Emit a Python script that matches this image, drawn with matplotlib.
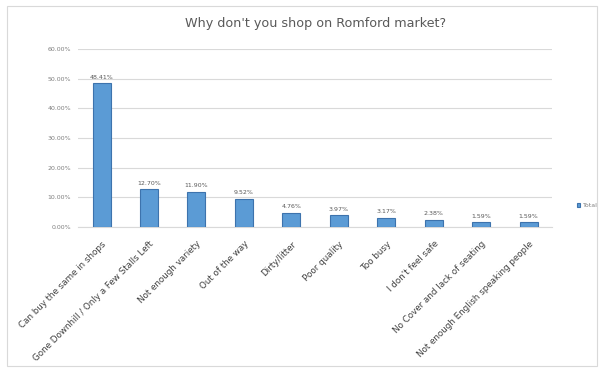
import numpy as np
import matplotlib.pyplot as plt
from matplotlib.patches import Rectangle

# Survey answers (share of respondents)
reasons = ["Can buy the same in shops",
           "Gone Downhill / Only a Few Stalls Left",
           "Not enough variety",
           "Out of the way",
           "Dirty/litter",
           "Poor quality",
           "Too busy",
           "I don't feel safe",
           "No Cover and lack of seating",
           "Not enough English speaking people"]
shares = [0.4841, 0.1270, 0.1190, 0.0952, 0.0476, 0.0397, 0.0317, 0.0238, 0.0159, 0.0159]
y_ticks = [0, 0.1, 0.2, 0.3, 0.4, 0.5, 0.6]

fig = plt.figure(figsize=(5.99, 3.72), dpi=100)
ax = fig.add_axes([0.130, 0.390, 0.792, 0.478])

# Outer chart border
fig.patches.append(Rectangle((0.011, 0.015), 0.985, 0.968, transform=fig.transFigure,
                             fill=False, edgecolor='#d9d9d9', linewidth=0.8))

x = np.arange(len(reasons))
bars = ax.bar(x, shares, width=0.38, color='#5b9bd5', edgecolor='#3d73ad',
              linewidth=0.8, label='Total', zorder=3)

for xi, v in zip(x, shares):
    ax.text(xi, v + 0.012, f"{v*100:.2f}%", ha='center', va='bottom',
            fontsize=4.5, color='#595959')

ax.set_xlim(-0.5, len(reasons) - 0.5)
ax.set_ylim(0, 0.6)
ax.set_yticks(y_ticks)
ax.set_yticklabels([f"{t*100:.2f}%" for t in y_ticks], fontsize=4.5, color='#7f7f7f')
ax.set_xticks(x)
ax.set_xticklabels(reasons, rotation=45, ha='right', rotation_mode='anchor',
                   fontsize=6.3, color='#404040')
ax.tick_params(axis='y', length=0, pad=5)
ax.tick_params(axis='x', length=0, pad=9)
ax.grid(axis='y', color='#d9d9d9', linewidth=0.8, zorder=0)
for s in ['top', 'right', 'left']:
    ax.spines[s].set_visible(False)
ax.spines['bottom'].set_color('#d9d9d9')

ax.set_title("Why don't you shop on Romford market?", fontsize=9.2, color='#595959', pad=16)

ax.legend(loc='center left', bbox_to_anchor=(1.04, 0.12), frameon=False,
          fontsize=4.5, handlelength=0.5, handleheight=0.5, handletextpad=0.4,
          labelcolor='#7f7f7f')

fig.savefig('out.png', dpi=100)
